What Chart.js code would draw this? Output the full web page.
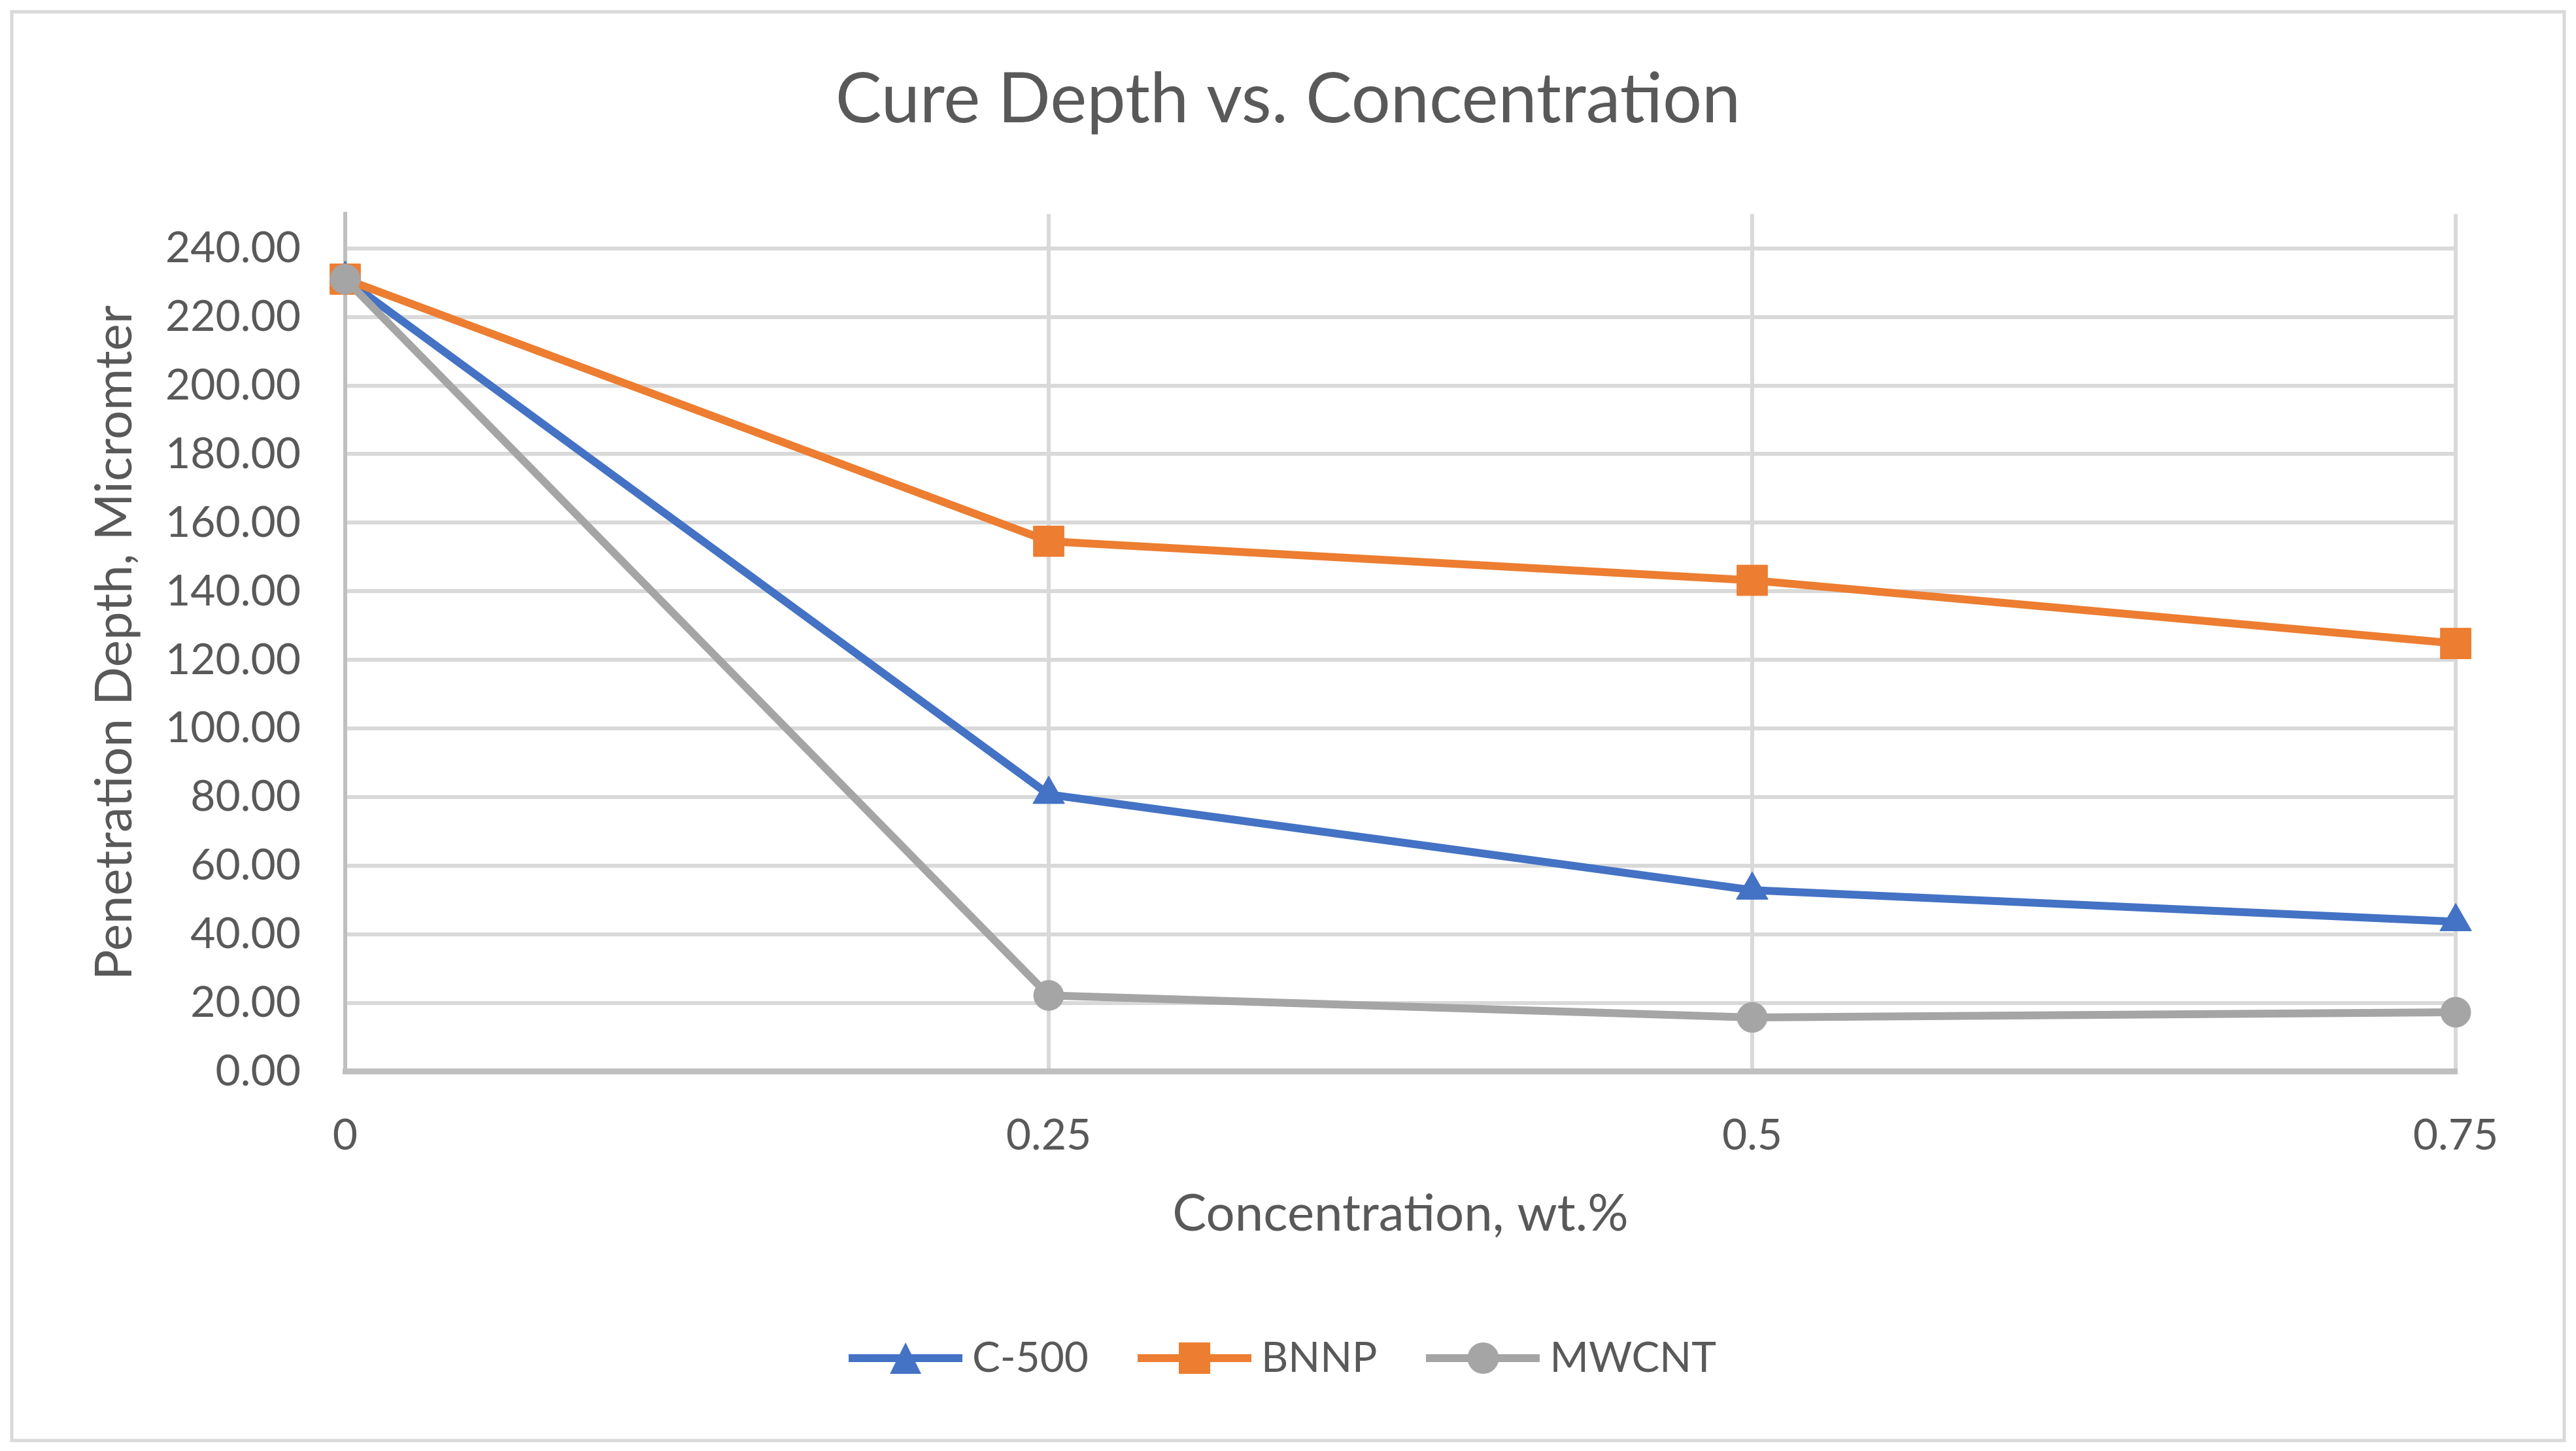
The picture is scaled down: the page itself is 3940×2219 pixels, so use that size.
<!DOCTYPE html>
<html lang="en">
<head>
  <meta charset="UTF-8">
  <title>Cure Depth vs. Concentration</title>
  <script src="https://cdn.jsdelivr.net/npm/chart.js"></script>
  <style>
    html, body { margin: 0; padding: 0; background: #fff; }
    #wrap { width: 3940px; height: 2219px; position: relative; }
  </style>
</head>
<body>
  <div id="wrap">
    <canvas id="myChart"></canvas>
  </div>

  <script>
    // chart data
    const concentration = ['0', '0.25', '0.5', '0.75'];
    const c500 = [231.0, 80.8, 52.9, 43.7];
    const bnnp = [231.0, 154.6, 143.2, 124.8];
    const mwcnt = [231.0, 22.2, 15.8, 17.3];
    const yTicks = [0, 20, 40, 60, 80, 100, 120, 140, 160, 180, 200, 220, 240];

    const textColor = '#595959';
    const gridColor = '#d9d9d9';
    const axisColor = '#bfbfbf';
    const fontFamily = 'Lato, "Open Sans", sans-serif';

    // small picture used in the legend: line with the marker in the middle
    function legendIcon(color, shape) {
      const c = document.createElement('canvas');
      c.width = 174;
      c.height = 56;
      const g = c.getContext('2d');
      g.strokeStyle = color;
      g.fillStyle = color;
      g.lineWidth = 12;
      g.beginPath();
      g.moveTo(0, 28);
      g.lineTo(174, 28);
      g.stroke();
      g.beginPath();
      if (shape === 'triangle') {
        g.moveTo(87, 4);
        g.lineTo(111, 52);
        g.lineTo(63, 52);
        g.closePath();
      } else if (shape === 'rect') {
        g.rect(63, 4, 48, 48);
      } else {
        g.arc(87, 28, 24, 0, Math.PI * 2);
      }
      g.fill();
      return c;
    }

    const series = [
      { label: 'C-500', data: c500, color: '#4472C4', shape: 'triangle', radius: 28, order: 2 },
      { label: 'BNNP', data: bnnp, color: '#ED7D31', shape: 'rect', radius: 33, order: 1 },
      { label: 'MWCNT', data: mwcnt, color: '#A5A5A5', shape: 'circle', radius: 23, order: 0 }
    ];

    const icons = series.map(s => legendIcon(s.color, s.shape));

    const chartBorder = {
      id: 'chartBorder',
      beforeDraw(chart) {
        const ctx = chart.ctx;
        ctx.save();
        ctx.fillStyle = '#ffffff';
        ctx.fillRect(0, 0, chart.width, chart.height);
        ctx.strokeStyle = gridColor;
        ctx.lineWidth = 5;
        ctx.strokeRect(18, 18, chart.width - 36, chart.height - 34);
        ctx.restore();
      }
    };

    const ctx = document.getElementById('myChart').getContext('2d');
    new Chart(ctx, {
      type: 'line',
      data: {
        labels: concentration,
        datasets: series.map(s => ({
          label: s.label,
          data: s.data,
          borderColor: s.color,
          backgroundColor: s.color,
          borderWidth: 12,
          pointStyle: s.shape,
          pointRadius: s.radius,
          pointHoverRadius: s.radius,
          pointBorderWidth: 1,
          pointBackgroundColor: s.color,
          pointBorderColor: s.color,
          tension: 0,
          order: s.order,
          yAxisID: 'y'
        }))
      },
      options: {
        responsive: true,
        maintainAspectRatio: false,
        animation: false,
        layout: {
          padding: { left: 112, right: 112, top: 0, bottom: 100 }
        },
        plugins: {
          title: {
            display: true,
            text: 'Cure Depth vs. Concentration',
            color: textColor,
            font: { family: fontFamily, size: 106, weight: 'normal' },
            padding: { top: 89, bottom: 111 }
          },
          legend: {
            position: 'bottom',
            labels: {
              color: textColor,
              font: { family: fontFamily, size: 64 },
              usePointStyle: true,
              pointStyleWidth: 140,
              padding: 92,
              generateLabels(chart) {
                return chart.data.datasets.map((ds, i) => ({
                  text: ds.label,
                  fillStyle: ds.borderColor,
                  strokeStyle: ds.borderColor,
                  fontColor: textColor,
                  lineWidth: 0,
                  pointStyle: icons[i],
                  hidden: !chart.isDatasetVisible(i),
                  datasetIndex: i
                }));
              }
            }
          },
          tooltip: { enabled: false }
        },
        scales: {
          x: {
            offset: false,
            grid: {
              color: c => c.index === 0 ? 'rgba(0,0,0,0)' : gridColor,
              lineWidth: 6,
              drawTicks: false
            },
            border: { display: true, color: axisColor, width: 9 },
            ticks: {
              color: textColor,
              font: { family: fontFamily, size: 66 },
              padding: 58,
              maxRotation: 0
            },
            title: {
              display: true,
              text: 'Concentration, wt.%',
              color: textColor,
              font: { family: fontFamily, size: 78, lineHeight: 0.5 },
              padding: { top: 3, bottom: 77 }
            }
          },
          y: {
            min: 0,
            max: 250,
            afterBuildTicks: scale => {
              scale.ticks = yTicks.map(v => ({ value: v }));
            },
            afterFit: scale => {
              scale.width = 416;
            },
            grid: {
              color: c => (c.tick && c.tick.value === 0) ? 'rgba(0,0,0,0)' : gridColor,
              lineWidth: 6,
              drawTicks: false
            },
            border: { display: true, color: axisColor, width: 6 },
            ticks: {
              color: textColor,
              font: { family: fontFamily, size: 66 },
              padding: 68,
              callback: value => value.toFixed(2)
            },
            title: {
              display: true,
              text: 'Penetration Depth, Micromter',
              color: textColor,
              font: { family: fontFamily, size: 78 },
              padding: { top: 17, bottom: 0 }
            }
          },
          // empty right-hand axis, only keeps the plot where the reference has it
          yRight: {
            position: 'right',
            display: true,
            grid: { display: false, drawTicks: false },
            border: { display: false },
            ticks: { display: false },
            afterFit: scale => {
              scale.width = 72;
            }
          }
        }
      },
      plugins: [chartBorder]
    });
  </script>
</body>
</html>
